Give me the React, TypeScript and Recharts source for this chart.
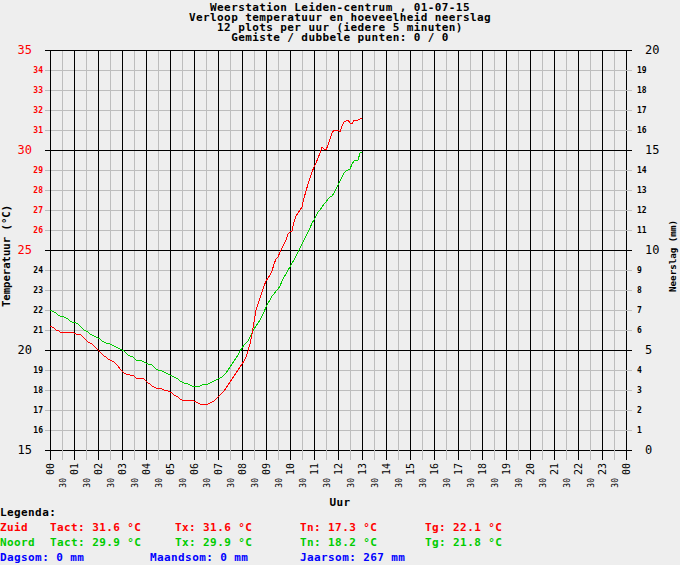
import React from 'react';
import { LineChart, Line, XAxis, YAxis, CartesianGrid, ReferenceLine } from 'recharts';

// Temperature Zuid (red), 5-minute readings from 00:00 to 13:00
const zuid = [
  21.2, 21.15, 21.1, 21.0, 21.0, 20.9, 20.9, 20.9, 20.9, 20.9, 20.9, 20.9,
  20.85, 20.8, 20.8, 20.8, 20.7, 20.6, 20.5, 20.4, 20.35, 20.3, 20.2, 20.1,
  20.0, 19.9, 19.8, 19.7, 19.65, 19.55, 19.5, 19.45, 19.4, 19.3, 19.2, 19.05,
  18.95, 18.85, 18.8, 18.8, 18.75, 18.75, 18.7, 18.6, 18.6, 18.6, 18.6, 18.55,
  18.45, 18.35, 18.3, 18.2, 18.15, 18.1, 18.1, 18.1, 18.05, 18.0, 18.0, 17.95,
  17.9, 17.85, 17.75, 17.7, 17.65, 17.55, 17.5, 17.5, 17.5, 17.5, 17.5, 17.5,
  17.45, 17.4, 17.35, 17.3, 17.3, 17.3, 17.3, 17.3, 17.35, 17.4, 17.45, 17.55,
  17.65, 17.75, 17.85, 17.95, 18.1, 18.25, 18.4, 18.55, 18.7, 18.85, 19.0, 19.15,
  19.3, 19.45, 19.65, 19.95, 20.3, 20.8, 21.4, 22.0, 22.3, 22.6, 22.9, 23.2,
  23.45, 23.6, 23.75, 23.95, 24.3, 24.55, 24.65, 24.9, 25.1, 25.3, 25.5, 25.8,
  25.9, 25.95, 26.4, 26.7, 26.85, 27.0, 27.15, 27.6, 27.95, 28.3, 28.6, 28.9,
  29.15, 29.35, 29.6, 29.85, 30.15, 30.05, 30.0, 30.25, 30.55, 30.85, 31.0, 31.0,
  31.0, 30.9, 31.2, 31.4, 31.45, 31.5, 31.35, 31.3, 31.5, 31.5, 31.5, 31.55,
  31.6,
];

// Temperature Noord (green)
const noord = [
  22.0, 21.95, 21.9, 21.85, 21.75, 21.7, 21.7, 21.65, 21.6, 21.55, 21.45, 21.4,
  21.4, 21.35, 21.3, 21.2, 21.1, 21.0, 20.95, 20.9, 20.8, 20.75, 20.7, 20.65,
  20.6, 20.55, 20.45, 20.4, 20.35, 20.35, 20.3, 20.25, 20.2, 20.15, 20.1, 20.05,
  20.0, 19.95, 19.85, 19.75, 19.7, 19.7, 19.6, 19.5, 19.5, 19.5, 19.45, 19.4,
  19.35, 19.3, 19.3, 19.25, 19.15, 19.05, 19.0, 19.0, 18.95, 18.9, 18.85, 18.8,
  18.75, 18.7, 18.65, 18.6, 18.55, 18.45, 18.4, 18.35, 18.35, 18.3, 18.25, 18.2,
  18.2, 18.2, 18.2, 18.2, 18.25, 18.3, 18.3, 18.3, 18.35, 18.4, 18.45, 18.5,
  18.55, 18.6, 18.65, 18.75, 18.85, 19.0, 19.15, 19.3, 19.45, 19.6, 19.75, 19.95,
  20.1, 20.25, 20.35, 20.45, 20.65, 20.85, 21.05, 21.2, 21.35, 21.5, 21.7, 21.9,
  22.15, 22.35, 22.5, 22.7, 22.8, 22.95, 23.05, 23.2, 23.45, 23.65, 23.8, 24.0,
  24.15, 24.35, 24.5, 24.7, 24.9, 25.1, 25.3, 25.5, 25.7, 25.9, 26.1, 26.35,
  26.5, 26.7, 26.9, 27.0, 27.15, 27.3, 27.4, 27.55, 27.65, 27.7, 27.85, 28.05,
  28.25, 28.45, 28.65, 28.85, 28.95, 29.0, 29.05, 29.3, 29.45, 29.5, 29.5, 29.85,
  29.9,
];

const STEP_MIN = 5;
const timeTicks = [
  0, 30, 60, 90, 120, 150, 180, 210, 240, 270, 300, 330, 360, 390, 420, 450, 480, 510,
  540, 570, 600, 630, 660, 690, 720, 750, 780, 810, 840, 870, 900, 930, 960, 990, 1020,
  1050, 1080, 1110, 1140, 1170, 1200, 1230, 1260, 1290, 1320, 1350, 1380, 1410, 1440,
];
const hourLines = [
  0, 60, 120, 180, 240, 300, 360, 420, 480, 540, 600, 660, 720, 780, 840, 900, 960, 1020,
  1080, 1140, 1200, 1260, 1320, 1380, 1440,
];
const tempTicks = [15, 16, 17, 18, 19, 20, 21, 22, 23, 24, 25, 26, 27, 28, 29, 30, 31, 32, 33, 34, 35];
const tempMajor = [15, 20, 25, 30, 35];
const rainTicks = [0, 1, 2, 3, 4, 5, 6, 7, 8, 9, 10, 11, 12, 13, 14, 15, 16, 17, 18, 19, 20];

const titleLines = [
  'Weerstation Leiden-centrum , 01-07-15',
  'Verloop temperatuur en hoeveelheid neerslag',
  '12 plots per uur (iedere 5 minuten)',
  'Gemiste / dubbele punten: 0 / 0',
];

const RED = '#ff0000';
const GREEN = '#00cc00';
const BLUE = '#0000ff';
const GRID = '#bdbdbd';
const BG = '#eeeeee';
const MONO = '"DejaVu Sans Mono", "Liberation Mono", monospace';

const data = zuid.map((z, i) => ({ t: i * STEP_MIN, zuid: z, noord: noord[i] }));

const pad2 = (n: number) => (n < 10 ? '0' + n : '' + n);

const XTick = (props: any) => {
  const { x, y, payload } = props;
  const v = payload.value as number;
  const isHour = v % 60 === 0;
  const h = Math.floor(v / 60) % 24;
  return (
    <g>
      <line x1={x} x2={x} y1={y} y2={y + 10} stroke={isHour ? '#000' : GRID} />
      {isHour ? (
        <text
          transform={`translate(${x + 4},${y + 13}) rotate(-90)`}
          textAnchor="end"
          fontSize={10}
          fontFamily={MONO}
          fill="#000"
        >
          {pad2(h)}
        </text>
      ) : (
        <text
          transform={`translate(${x + 4},${y + 28}) rotate(-90)`}
          textAnchor="end"
          fontSize={8}
          fontFamily={MONO}
          fill="#000"
        >
          30
        </text>
      )}
    </g>
  );
};

const LTick = (props: any) => {
  const { x, y, payload } = props;
  const v = payload.value as number;
  const major = v % 5 === 0;
  const color = v >= 25 ? RED : '#000';
  return (
    <g>
      <line x1={x - 5} x2={x} y1={y} y2={y} stroke={major ? '#000' : GRID} />
      <text
        x={major ? x - 18 : x - 7}
        y={y}
        dy={major ? 4 : 3}
        textAnchor="end"
        fontSize={major ? 12 : 8}
        fontWeight={major ? 'normal' : 'bold'}
        fontFamily={MONO}
        fill={color}
      >
        {v}
      </text>
    </g>
  );
};

const RTick = (props: any) => {
  const { x, y, payload } = props;
  const v = payload.value as number;
  const major = v % 5 === 0;
  return (
    <g>
      <line x1={x} x2={x + 6} y1={y} y2={y} stroke={major ? '#000' : GRID} />
      <text
        x={major ? x + 19 : x + 11}
        y={y}
        dy={major ? 4 : 3}
        textAnchor="start"
        fontSize={major ? 12 : 8}
        fontWeight={major ? 'normal' : 'bold'}
        fontFamily={MONO}
        fill="#000"
      >
        {v}
      </text>
    </g>
  );
};

const txt = { fontFamily: MONO, fontWeight: 'bold' as const, fontSize: 11, letterSpacing: 0.4 };

export default function App() {
  return (
    <div style={{ position: 'absolute', left: 0, top: 0, width: 680, height: 565, background: BG }}>
      <LineChart
        width={680}
        height={565}
        data={data}
        margin={{ top: 50, right: 0, bottom: 75, left: 0 }}
        style={{ shapeRendering: 'crispEdges' }}
      >
        <CartesianGrid yAxisId="temp" stroke={GRID} strokeWidth={1} />
        <XAxis
          dataKey="t"
          type="number"
          domain={[0, 1440]}
          ticks={timeTicks}
          interval={0}
          height={40}
          tickSize={0}
          tickMargin={0}
          axisLine={false}
          tickLine={false}
          tick={(p: any) => <XTick {...p} />}
          allowDataOverflow
        />
        <YAxis
          yAxisId="temp"
          type="number"
          domain={[15, 35]}
          ticks={tempTicks}
          interval={0}
          width={50}
          tickSize={0}
          tickMargin={0}
          axisLine={false}
          tickLine={false}
          tick={(p: any) => <LTick {...p} />}
          allowDataOverflow
        />
        <YAxis
          yAxisId="rain"
          orientation="right"
          type="number"
          domain={[0, 20]}
          ticks={rainTicks}
          interval={0}
          width={54}
          tickSize={0}
          tickMargin={0}
          axisLine={false}
          tickLine={false}
          tick={(p: any) => <RTick {...p} />}
          allowDataOverflow
        />
        {hourLines.map((h) => (
          <ReferenceLine key={'h' + h} x={h} yAxisId="temp" stroke="#000" strokeWidth={1} />
        ))}
        {tempMajor.map((t) => (
          <ReferenceLine key={'t' + t} y={t} yAxisId="temp" stroke="#000" strokeWidth={1} />
        ))}
        <Line
          yAxisId="temp"
          type="linear"
          dataKey="noord"
          stroke={GREEN}
          strokeWidth={1}
          dot={false}
          activeDot={false}
          isAnimationActive={false}
        />
        <Line
          yAxisId="temp"
          type="linear"
          dataKey="zuid"
          stroke={RED}
          strokeWidth={1}
          dot={false}
          activeDot={false}
          isAnimationActive={false}
        />
      </LineChart>
      <svg
        width={680}
        height={565}
        style={{ position: 'absolute', left: 0, top: 0, pointerEvents: 'none' }}
      >
        {titleLines.map((l, i) => (
          <text key={i} x={340} y={11 + i * 10} textAnchor="middle" {...txt} fill="#000">
            {l}
          </text>
        ))}
        <text
          transform="translate(10,256) rotate(-90)"
          textAnchor="middle"
          fontFamily={MONO}
          fontWeight="bold"
          fontSize={10.6}
          fill="#000"
        >
          Temperatuur (°C)
        </text>
        <text
          transform="translate(676,256) rotate(-90)"
          textAnchor="middle"
          fontFamily={MONO}
          fontWeight="bold"
          fontSize={9.2}
          fill="#000"
        >
          Neerslag (mm)
        </text>
        <text x={340} y={506} textAnchor="middle" {...txt} fill="#000">Uur</text>
        <text x={0} y={516} {...txt} fill="#000">Legenda:</text>

        <text x={0} y={531} {...txt} fill={RED}>Zuid</text>
        <text x={50} y={531} {...txt} fill={RED}>Tact: 31.6 °C</text>
        <text x={175} y={531} {...txt} fill={RED}>Tx: 31.6 °C</text>
        <text x={300} y={531} {...txt} fill={RED}>Tn: 17.3 °C</text>
        <text x={425} y={531} {...txt} fill={RED}>Tg: 22.1 °C</text>

        <text x={0} y={546} {...txt} fill={GREEN}>Noord</text>
        <text x={50} y={546} {...txt} fill={GREEN}>Tact: 29.9 °C</text>
        <text x={175} y={546} {...txt} fill={GREEN}>Tx: 29.9 °C</text>
        <text x={300} y={546} {...txt} fill={GREEN}>Tn: 18.2 °C</text>
        <text x={425} y={546} {...txt} fill={GREEN}>Tg: 21.8 °C</text>

        <text x={0} y={561} {...txt} fill={BLUE}>Dagsom: 0 mm</text>
        <text x={150} y={561} {...txt} fill={BLUE}>Maandsom: 0 mm</text>
        <text x={300} y={561} {...txt} fill={BLUE}>Jaarsom: 267 mm</text>
      </svg>
    </div>
  );
}
